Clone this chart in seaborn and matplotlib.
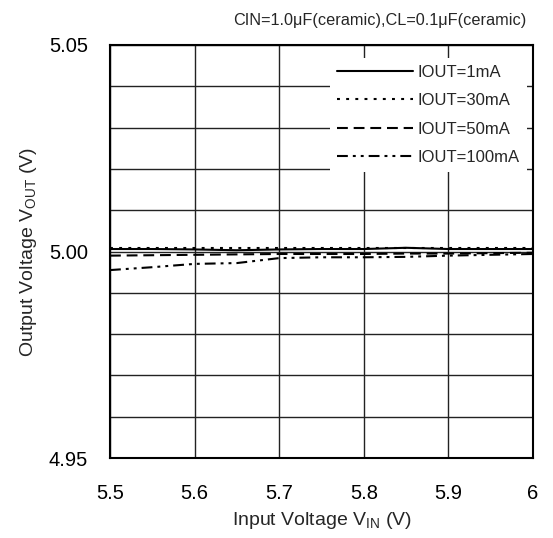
import matplotlib
matplotlib.use("Agg")
import matplotlib.pyplot as plt
import seaborn as sns
import numpy as np
from matplotlib.ticker import MultipleLocator, FixedLocator

sns.set_theme(style="white")
plt.rcParams['font.family'] = ['Liberation Sans', 'DejaVu Sans']

# ---- data ----
vin = [5.50, 5.55, 5.60, 5.65, 5.70, 5.75, 5.80, 5.85, 5.90, 5.95, 6.00]
vout_1mA = [5.0006, 5.0006, 5.0005, 5.0003, 5.0005, 5.0006, 5.0006, 5.0009, 5.0006, 5.0006, 5.0006]
vout_30mA = [5.0008, 5.0008, 5.0008, 5.0008, 5.0008, 5.0008, 5.0008, 5.0008, 5.0008, 5.0008, 5.0008]
vout_50mA = [4.9990, 4.9991, 4.9992, 4.9993, 4.9994, 4.9994, 4.9994, 4.9995, 4.9995, 4.9996, 4.9997]
vout_100mA = [4.9955, 4.9962, 4.9970, 4.9972, 4.9984, 4.9986, 4.9986, 4.9987, 4.9990, 4.9992, 4.9994]
labels = ["IOUT=1mA", "IOUT=30mA", "IOUT=50mA", "IOUT=100mA"]
series = [vout_1mA, vout_30mA, vout_50mA, vout_100mA]
x_ticks = [5.5, 5.6, 5.7, 5.8, 5.9, 6.0]
x_ticklabels = ["5.5", "5.6", "5.7", "5.8", "5.9", "6"]
y_ticks = [4.95, 5.00, 5.05]
y_ticklabels = ["4.95", "5.00", "5.05"]
title = "CIN=1.0\u03bcF(ceramic),CL=0.1\u03bcF(ceramic)"

styles = [
    "-",
    (0, (1.4, 3.0)),
    (0, (5.2, 2.8)),
    (0, (5.2, 2.4, 1.4, 2.4, 1.4, 2.4)),
]

fig = plt.figure(figsize=(5.53, 5.38), dpi=100)
ax = fig.add_axes([110/553, 1-458/538, 423/553, 413/538])

for vals, lab, ls in zip(series, labels, styles):
    sns.lineplot(x=vin, y=vals, ax=ax, color="black", linewidth=1.5,
                 linestyle=ls, label=lab)

ax.set_xlim(5.5, 6.0)
ax.set_ylim(4.95, 5.05)
ax.xaxis.set_major_locator(FixedLocator(x_ticks))
ax.set_xticklabels(x_ticklabels)
ax.yaxis.set_major_locator(FixedLocator(y_ticks))
ax.set_yticklabels(y_ticklabels)
ax.yaxis.set_minor_locator(MultipleLocator(0.01))
ax.grid(True, which="both", color="#222222", linewidth=1.0)
ax.tick_params(axis="both", which="both", length=0, labelsize=14.5, colors="black")
ax.tick_params(axis="x", pad=19)
ax.tick_params(axis="y", pad=16)
for s in ax.spines.values():
    s.set_color("black")
    s.set_linewidth(1.5)

ax.set_xlabel("Input Voltage V$_{\\mathregular{IN}}$ (V)", fontsize=14, labelpad=5)
ax.set_ylabel("Output Voltage V$_{\\mathregular{OUT}}$ (V)", fontsize=14, labelpad=7)

fig.text(526/553, 1-20/538, title, ha="right", va="center", fontsize=11.7)

leg = ax.legend(loc="upper right", bbox_to_anchor=(0.985, 0.968), frameon=True,
                facecolor="white", edgecolor="none", framealpha=1, fancybox=False,
                fontsize=12, handlelength=4.55, handletextpad=0.3, labelspacing=0.8,
                borderpad=0.4, borderaxespad=0)
leg.get_frame().set_linewidth(0)

fig.savefig("out.png", dpi=100)
